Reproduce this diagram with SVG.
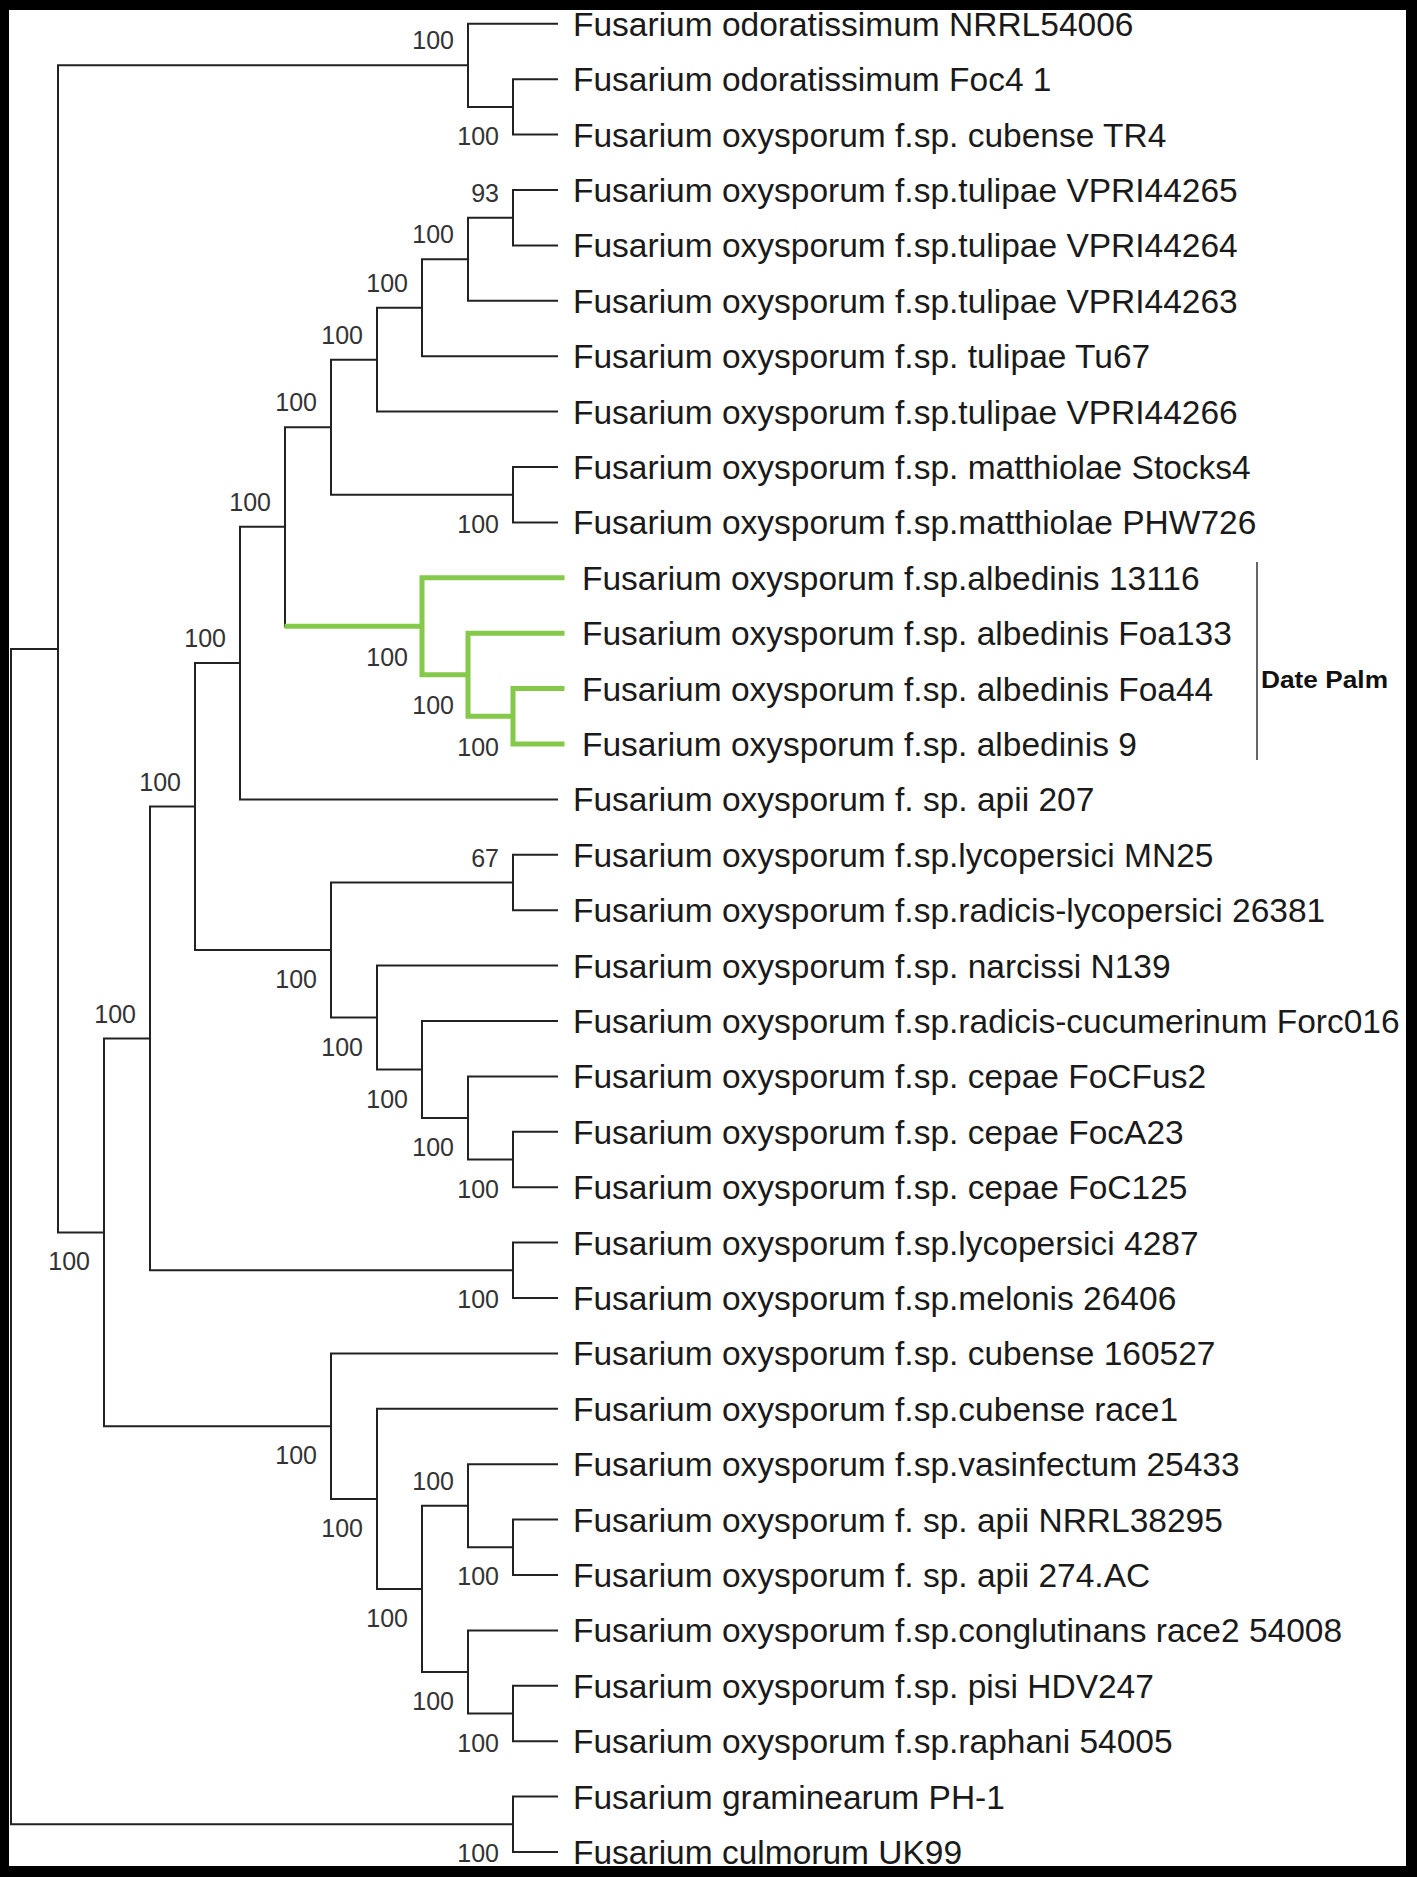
<svg xmlns="http://www.w3.org/2000/svg" width="1417" height="1877" viewBox="0 0 1417 1877">
<style>
.br{fill:none;stroke:#222;stroke-width:2;stroke-linecap:square}
.gr{fill:none;stroke:#84c94a;stroke-width:5;stroke-linecap:square}
.lf{font-family:"Liberation Sans",Arial,sans-serif;font-size:33.5px;fill:#1a1a1a}
.bs{font-family:"Liberation Sans",Arial,sans-serif;font-size:25px;fill:#333;text-anchor:end}
.dp{font-family:"Liberation Sans",Arial,sans-serif;font-size:24px;font-weight:bold;fill:#111}
</style>
<rect x="0" y="0" width="1417" height="1877" fill="#fff"/>
<g id="connectors">
<path class="br" d="M11 648.9V1824.3M11 648.9H58M11 1824.3H513
M58 65.35V1232.4M58 65.35H468M58 1232.4H104
M468 23.8V106.9M468 23.8H557M468 106.9H513
M513 79.2V134.6M513 79.2H557M513 134.6H557
M104 1038.5V1426.2M104 1038.5H150M104 1426.2H331
M150 806.6V1270.3M150 806.6H195M150 1270.3H513
M513 1242.6V1298M513 1242.6H557M513 1298H557
M195 663.1V950M195 663.1H240M195 950H331
M240 526.8V799.4M240 526.8H285M240 799.4H557
M285 427.2V626.3M285 427.2H331
M331 359.7V494.7M331 359.7H377M331 494.7H513
M513 467V522.4M513 467H557M513 522.4H557
M377 307.7V411.6M377 307.7H422M377 411.6H557
M422 259.25V356.2M422 259.25H468M422 356.2H557
M468 217.7V300.8M468 217.7H513M468 300.8H557
M513 190V245.4M513 190H557M513 245.4H557
M331 882.5V1017.6M331 882.5H513M331 1017.6H377
M513 854.8V910.2M513 854.8H557M513 910.2H557
M377 965.6V1069.5M377 965.6H557M377 1069.5H422
M422 1021V1118M422 1021H557M422 1118H468
M468 1076.4V1159.5M468 1076.4H557M468 1159.5H513
M513 1131.8V1187.2M513 1131.8H557M513 1187.2H557
M331 1353.4V1498.9M331 1353.4H557M331 1498.9H377
M377 1408.8V1588.9M377 1408.8H557M377 1588.9H422
M422 1505.8V1672M422 1505.8H468M422 1672H468
M468 1464.2V1547.3M468 1464.2H557M468 1547.3H513
M513 1519.6V1575M513 1519.6H557M513 1575H557
M468 1630.4V1713.5M468 1630.4H557M468 1713.5H513
M513 1685.8V1741.2M513 1685.8H557M513 1741.2H557
M513 1796.6V1852M513 1796.6H557M513 1852H557"/>
<path class="gr" d="M287 626.3H422M422 577.8V674.8M422 577.8H562M422 674.8H468
M468 633.2V716.3M468 633.2H562M468 716.3H513
M513 688.6V744M513 688.6H562M513 744H562"/>
</g>
<g id="leaves">
<g id="leaf1"><text class="lf" x="573" y="35.8">Fusarium odoratissimum NRRL54006</text></g>
<g id="leaf2"><text class="lf" x="573" y="91.2">Fusarium odoratissimum Foc4 1</text></g>
<g id="leaf3"><text class="lf" x="573" y="146.6">Fusarium oxysporum f.sp. cubense TR4</text></g>
<g id="leaf4"><text class="lf" x="573" y="202">Fusarium oxysporum f.sp.tulipae VPRI44265</text></g>
<g id="leaf5"><text class="lf" x="573" y="257.4">Fusarium oxysporum f.sp.tulipae VPRI44264</text></g>
<g id="leaf6"><text class="lf" x="573" y="312.8">Fusarium oxysporum f.sp.tulipae VPRI44263</text></g>
<g id="leaf7"><text class="lf" x="573" y="368.2">Fusarium oxysporum f.sp. tulipae Tu67</text></g>
<g id="leaf8"><text class="lf" x="573" y="423.6">Fusarium oxysporum f.sp.tulipae VPRI44266</text></g>
<g id="leaf9"><text class="lf" x="573" y="479">Fusarium oxysporum f.sp. matthiolae Stocks4</text></g>
<g id="leaf10"><text class="lf" x="573" y="534.4">Fusarium oxysporum f.sp.matthiolae PHW726</text></g>
<g id="leaf11"><text class="lf" x="582" y="589.8">Fusarium oxysporum f.sp.albedinis 13116</text></g>
<g id="leaf12"><text class="lf" x="582" y="645.2">Fusarium oxysporum f.sp. albedinis Foa133</text></g>
<g id="leaf13"><text class="lf" x="582" y="700.6">Fusarium oxysporum f.sp. albedinis Foa44</text></g>
<g id="leaf14"><text class="lf" x="582" y="756">Fusarium oxysporum f.sp. albedinis 9</text></g>
<g id="leaf15"><text class="lf" x="573" y="811.4">Fusarium oxysporum f. sp. apii 207</text></g>
<g id="leaf16"><text class="lf" x="573" y="866.8">Fusarium oxysporum f.sp.lycopersici MN25</text></g>
<g id="leaf17"><text class="lf" x="573" y="922.2">Fusarium oxysporum f.sp.radicis-lycopersici 26381</text></g>
<g id="leaf18"><text class="lf" x="573" y="977.6">Fusarium oxysporum f.sp. narcissi N139</text></g>
<g id="leaf19"><text class="lf" x="573" y="1033">Fusarium oxysporum f.sp.radicis-cucumerinum Forc016</text></g>
<g id="leaf20"><text class="lf" x="573" y="1088.4">Fusarium oxysporum f.sp. cepae FoCFus2</text></g>
<g id="leaf21"><text class="lf" x="573" y="1143.8">Fusarium oxysporum f.sp. cepae FocA23</text></g>
<g id="leaf22"><text class="lf" x="573" y="1199.2">Fusarium oxysporum f.sp. cepae FoC125</text></g>
<g id="leaf23"><text class="lf" x="573" y="1254.6">Fusarium oxysporum f.sp.lycopersici 4287</text></g>
<g id="leaf24"><text class="lf" x="573" y="1310">Fusarium oxysporum f.sp.melonis 26406</text></g>
<g id="leaf25"><text class="lf" x="573" y="1365.4">Fusarium oxysporum f.sp. cubense 160527</text></g>
<g id="leaf26"><text class="lf" x="573" y="1420.8">Fusarium oxysporum f.sp.cubense race1</text></g>
<g id="leaf27"><text class="lf" x="573" y="1476.2">Fusarium oxysporum f.sp.vasinfectum 25433</text></g>
<g id="leaf28"><text class="lf" x="573" y="1531.6">Fusarium oxysporum f. sp. apii NRRL38295</text></g>
<g id="leaf29"><text class="lf" x="573" y="1587">Fusarium oxysporum f. sp. apii 274.AC</text></g>
<g id="leaf30"><text class="lf" x="573" y="1642.4">Fusarium oxysporum f.sp.conglutinans race2 54008</text></g>
<g id="leaf31"><text class="lf" x="573" y="1697.8">Fusarium oxysporum f.sp. pisi HDV247</text></g>
<g id="leaf32"><text class="lf" x="573" y="1753.2">Fusarium oxysporum f.sp.raphani 54005</text></g>
<g id="leaf33"><text class="lf" x="573" y="1808.6">Fusarium graminearum PH-1</text></g>
<g id="leaf34"><text class="lf" x="573" y="1864">Fusarium culmorum UK99</text></g>
</g>
<g id="internal-nodes">
<g id="n1-3"><text class="bs" x="454" y="49.4">100</text></g>
<g id="n2-3"><text class="bs" x="499" y="144.9">100</text></g>
<g id="n4-5"><text class="bs" x="499" y="201.7">93</text></g>
<g id="n4-6"><text class="bs" x="454" y="243.3">100</text></g>
<g id="n4-7"><text class="bs" x="408" y="291.7">100</text></g>
<g id="n4-8"><text class="bs" x="363" y="343.7">100</text></g>
<g id="n4-10"><text class="bs" x="317" y="411.2">100</text></g>
<g id="n4-14"><text class="bs" x="271" y="510.8">100</text></g>
<g id="n9-10"><text class="bs" x="499" y="532.7">100</text></g>
<g id="n4-15"><text class="bs" x="226" y="647.1">100</text></g>
<g id="n11-14"><text class="bs" x="408" y="665.5">100</text></g>
<g id="n12-14"><text class="bs" x="454" y="714">100</text></g>
<g id="n13-14"><text class="bs" x="499" y="756">100</text></g>
<g id="n4-22"><text class="bs" x="181" y="790.6">100</text></g>
<g id="n16-17"><text class="bs" x="499" y="866.5">67</text></g>
<g id="n16-22"><text class="bs" x="317" y="988">100</text></g>
<g id="n4-24"><text class="bs" x="136" y="1022.5">100</text></g>
<g id="n18-22"><text class="bs" x="363" y="1055.6">100</text></g>
<g id="n19-22"><text class="bs" x="408" y="1107.5">100</text></g>
<g id="n20-22"><text class="bs" x="454" y="1156">100</text></g>
<g id="n21-22"><text class="bs" x="499" y="1197.5">100</text></g>
<g id="n4-32"><text class="bs" x="90" y="1270.4">100</text></g>
<g id="n23-24"><text class="bs" x="499" y="1308.3">100</text></g>
<g id="n25-32"><text class="bs" x="317" y="1464.2">100</text></g>
<g id="n27-29"><text class="bs" x="454" y="1489.8">100</text></g>
<g id="n26-32"><text class="bs" x="363" y="1536.9">100</text></g>
<g id="n28-29"><text class="bs" x="499" y="1585.3">100</text></g>
<g id="n27-32"><text class="bs" x="408" y="1626.9">100</text></g>
<g id="n30-32"><text class="bs" x="454" y="1710">100</text></g>
<g id="n31-32"><text class="bs" x="499" y="1751.5">100</text></g>
<g id="n33-34"><text class="bs" x="499" y="1862.3">100</text></g>
</g>
<g id="date-palm">
<line x1="1257" y1="562" x2="1257" y2="760" stroke="#333" stroke-width="1.5"/>
<text class="dp" x="1261" y="688" textLength="127" lengthAdjust="spacingAndGlyphs">Date Palm</text>
</g>
<path id="frame" fill="#000" fill-rule="evenodd" d="M0 0H1417V1877H0ZM9 10V1866H1406V10Z"/>
</svg>
